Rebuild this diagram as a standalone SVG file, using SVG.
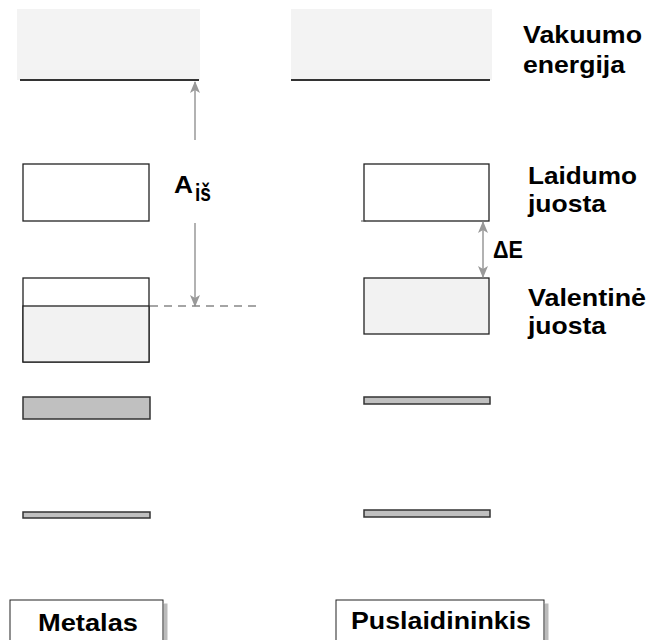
<svg xmlns="http://www.w3.org/2000/svg" width="647" height="640" viewBox="0 0 647 640">
  <style>
    .lbl { font-family: "Liberation Sans", Arial, sans-serif; font-weight: bold; font-size: 24px; fill: #000; }
    .band { stroke: #222; stroke-width: 1.3; }
    .thin { fill: #c0c0c0; stroke: #333; stroke-width: 1.5; }
    .conn { stroke: #999; stroke-width: 1.5; fill: none; }
  </style>
  <defs>
    <marker id="ah" viewBox="0 0 12 10" refX="11" refY="5" markerWidth="12" markerHeight="10" markerUnits="userSpaceOnUse" orient="auto-start-reverse">
      <path d="M0,0 L12,5 L0,10 L3,5 Z" fill="#999"/>
    </marker>
    <filter id="sh" x="-10%" y="-10%" width="130%" height="130%">
      <feOffset dx="4" dy="4" in="SourceAlpha" result="o"/>
      <feFlood flood-color="#bbb"/>
      <feComposite in2="o" operator="in" result="s"/>
      <feMerge><feMergeNode in="s"/><feMergeNode in="SourceGraphic"/></feMerge>
    </filter>
  </defs>
  <rect width="647" height="640" fill="#fff"/>

  <!-- vacuum level -->
  <g id="vacuum-metal">
    <rect x="17" y="9" width="183" height="71" fill="#f3f3f3"/>
    <line x1="20" y1="80" x2="199" y2="80" stroke="#333" stroke-width="2"/>
  </g>
  <g id="vacuum-semi">
    <rect x="291" y="9" width="201" height="71" fill="#f3f3f3"/>
    <line x1="291" y1="80" x2="490" y2="80" stroke="#333" stroke-width="2"/>
  </g>
  <g id="vacuum-label">
    <text class="lbl" x="523" y="43" textLength="119" lengthAdjust="spacingAndGlyphs">Vakuumo</text>
    <text class="lbl" x="523" y="73" textLength="102" lengthAdjust="spacingAndGlyphs">energija</text>
  </g>

  <!-- conduction bands -->
  <g id="cond-metal">
    <rect class="band" x="23" y="164" width="126" height="57" fill="#fff"/>
  </g>
  <g id="cond-semi">
    <rect class="band" x="364" y="164" width="125" height="57" fill="#fff"/>
    <line x1="361" y1="221" x2="366" y2="221" stroke="#555" stroke-width="1"/>
  </g>
  <g id="cond-label">
    <text class="lbl" x="528" y="184" textLength="109" lengthAdjust="spacingAndGlyphs">Laidumo</text>
    <text class="lbl" x="528" y="212" textLength="78" lengthAdjust="spacingAndGlyphs">juosta</text>
  </g>

  <!-- valence bands -->
  <g id="val-metal">
    <rect class="band" x="23" y="278" width="126" height="84" fill="#fff"/>
    <rect class="band" x="23" y="306" width="126" height="56" fill="#f2f2f2"/>
  </g>
  <g id="val-semi">
    <rect class="band" x="364" y="278" width="125" height="56" fill="#f2f2f2"/>
  </g>
  <g id="val-label">
    <text class="lbl" x="528" y="306" textLength="118" lengthAdjust="spacingAndGlyphs">Valentinė</text>
    <text class="lbl" x="528" y="334" textLength="78" lengthAdjust="spacingAndGlyphs">juosta</text>
  </g>

  <!-- inner levels -->
  <g id="core-metal-1"><rect class="thin" x="23" y="397" width="127" height="22"/></g>
  <g id="core-semi-1"><rect class="thin" x="364" y="397" width="126" height="7"/></g>
  <g id="core-metal-2"><rect class="thin" x="23" y="512" width="127" height="6"/></g>
  <g id="core-semi-2"><rect class="thin" x="364" y="510" width="126" height="7"/></g>

  <!-- connectors -->
  <g id="connectors">
    <line class="conn" x1="195" y1="140" x2="195" y2="82" marker-end="url(#ah)"/>
    <line class="conn" x1="195" y1="223" x2="195" y2="306" marker-end="url(#ah)"/>
    <line x1="150" y1="306" x2="260" y2="306" stroke="#888" stroke-width="1.3" stroke-dasharray="8,6"/>
    <line class="conn" x1="483" y1="222" x2="483" y2="277" marker-start="url(#ah)" marker-end="url(#ah)"/>
  </g>

  <!-- work function and gap labels -->
  <g id="work-label">
    <text class="lbl" x="174" y="193" font-size="22" textLength="19" lengthAdjust="spacingAndGlyphs">A</text>
    <text class="lbl" x="195" y="201" font-size="16" textLength="16" lengthAdjust="spacingAndGlyphs">iš</text>
  </g>
  <g id="gap-label">
    <text class="lbl" x="493" y="258" font-size="21" textLength="30" lengthAdjust="spacingAndGlyphs">ΔE</text>
  </g>

  <!-- material captions -->
  <g id="caption-metal">
    <rect x="10" y="600" width="153" height="50" fill="#fff" stroke="#222" stroke-width="1" filter="url(#sh)"/>
    <text class="lbl" x="38" y="631" textLength="100" lengthAdjust="spacingAndGlyphs">Metalas</text>
  </g>
  <g id="caption-semi">
    <rect x="336" y="600" width="208" height="50" fill="#fff" stroke="#222" stroke-width="1" filter="url(#sh)"/>
    <text class="lbl" x="351" y="629" textLength="180" lengthAdjust="spacingAndGlyphs">Puslaidininkis</text>
  </g>
</svg>
